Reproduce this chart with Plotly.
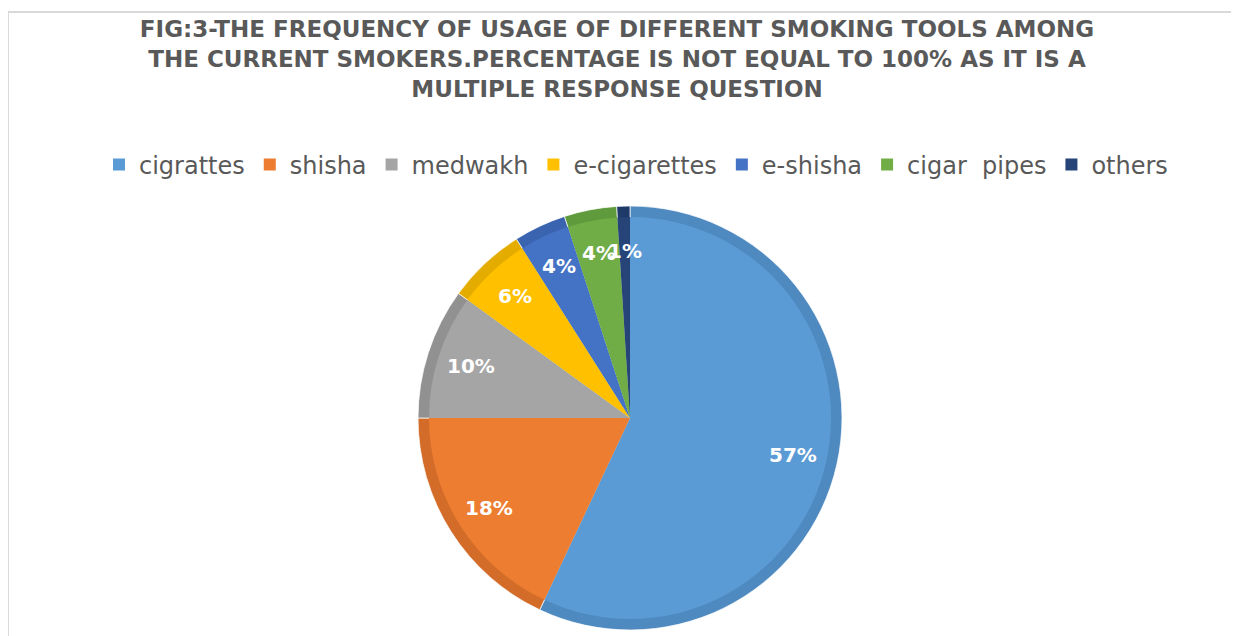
import math
import plotly.graph_objects as go

categories = ["cigrattes", "shisha", "medwakh", "e-cigarettes", "e-shisha", "cigar  pipes", "others"]
values = [57, 18, 10, 6, 4, 4, 1]
colors = ["#5B9BD5", "#ED7D31", "#A5A5A5", "#FFC000", "#4472C4", "#70AD47", "#264478"]
dark_colors = ["#4E89C0", "#D26C28", "#919191", "#E5AC00", "#3A63B0", "#5F9A3C", "#1E3A68"]

title_text = ("FIG:3-THE FREQUENCY OF USAGE OF DIFFERENT SMOKING TOOLS AMONG<br>"
              "THE CURRENT SMOKERS.PERCENTAGE IS NOT EQUAL TO 100% AS IT IS A<br>"
              "MULTIPLE RESPONSE QUESTION")

OFF = 8  # page body margin
W, H = 1239 - OFF, 636 - OFF
cx, cy = 630 - OFF, 418 - OFF
R_out, R_in = 212, 201
LABEL_FRAC = 0.79


def px(x):
    return (x - OFF) / W


def py(y):
    return 1 - (y - OFF) / H


def dom(r):
    return dict(x=[(cx - r) / W, (cx + r) / W], y=[(H - cy - r) / H, (H - cy + r) / H])


fig = go.Figure()
# darker rim (bevel)
fig.add_trace(go.Pie(
    labels=categories, values=values, sort=False, direction="clockwise", rotation=0,
    marker=dict(colors=dark_colors, line=dict(color="rgba(255,255,255,0.7)", width=1)),
    textinfo="none", hoverinfo="skip", showlegend=False, domain=dom(R_out),
))
# lighter face
fig.add_trace(go.Pie(
    labels=categories, values=values, sort=False, direction="clockwise", rotation=0,
    marker=dict(colors=colors, line=dict(color="rgba(255,255,255,0)", width=0)),
    textinfo="none", domain=dom(R_in), showlegend=True,
))

# data labels placed from the slice mid-angles
total = sum(values)
annotations = []
cum = 0
for v in values:
    mid = (cum + v / 2) / total * 2 * math.pi
    cum += v
    lx = cx + LABEL_FRAC * R_out * math.sin(mid)
    ly = cy - LABEL_FRAC * R_out * math.cos(mid)
    annotations.append(dict(
        x=lx / W, y=1 - ly / H, xref="paper", yref="paper", showarrow=False,
        text="<b>%d%%</b>" % v, xanchor="center", yanchor="middle",
        font=dict(family="DejaVu Sans", size=20, color="white"),
    ))

fig.update_layout(
    width=W, height=H,
    paper_bgcolor="white", plot_bgcolor="white",
    margin=dict(l=0, r=0, t=0, b=0),
    title=dict(text="<b>" + title_text + "</b>", x=px(617), xanchor="center", y=py(37), yanchor="top",
               font=dict(family="DejaVu Sans", size=23, color="#595959")),
    legend=dict(orientation="h", x=px(636), xanchor="center", y=py(165), yanchor="middle",
                font=dict(family="DejaVu Sans", size=24, color="#595959"),
                traceorder="normal", itemwidth=30),
    annotations=annotations,
    shapes=[
        dict(type="line", xref="paper", yref="paper", x0=px(7), x1=1, y0=py(12), y1=py(12),
             line=dict(color="#D9D9D9", width=2)),
        dict(type="line", xref="paper", yref="paper", x0=px(8), x1=px(8), y0=0, y1=py(12),
             line=dict(color="#D9D9D9", width=2)),
    ],
)

fig.write_html("out.html")
